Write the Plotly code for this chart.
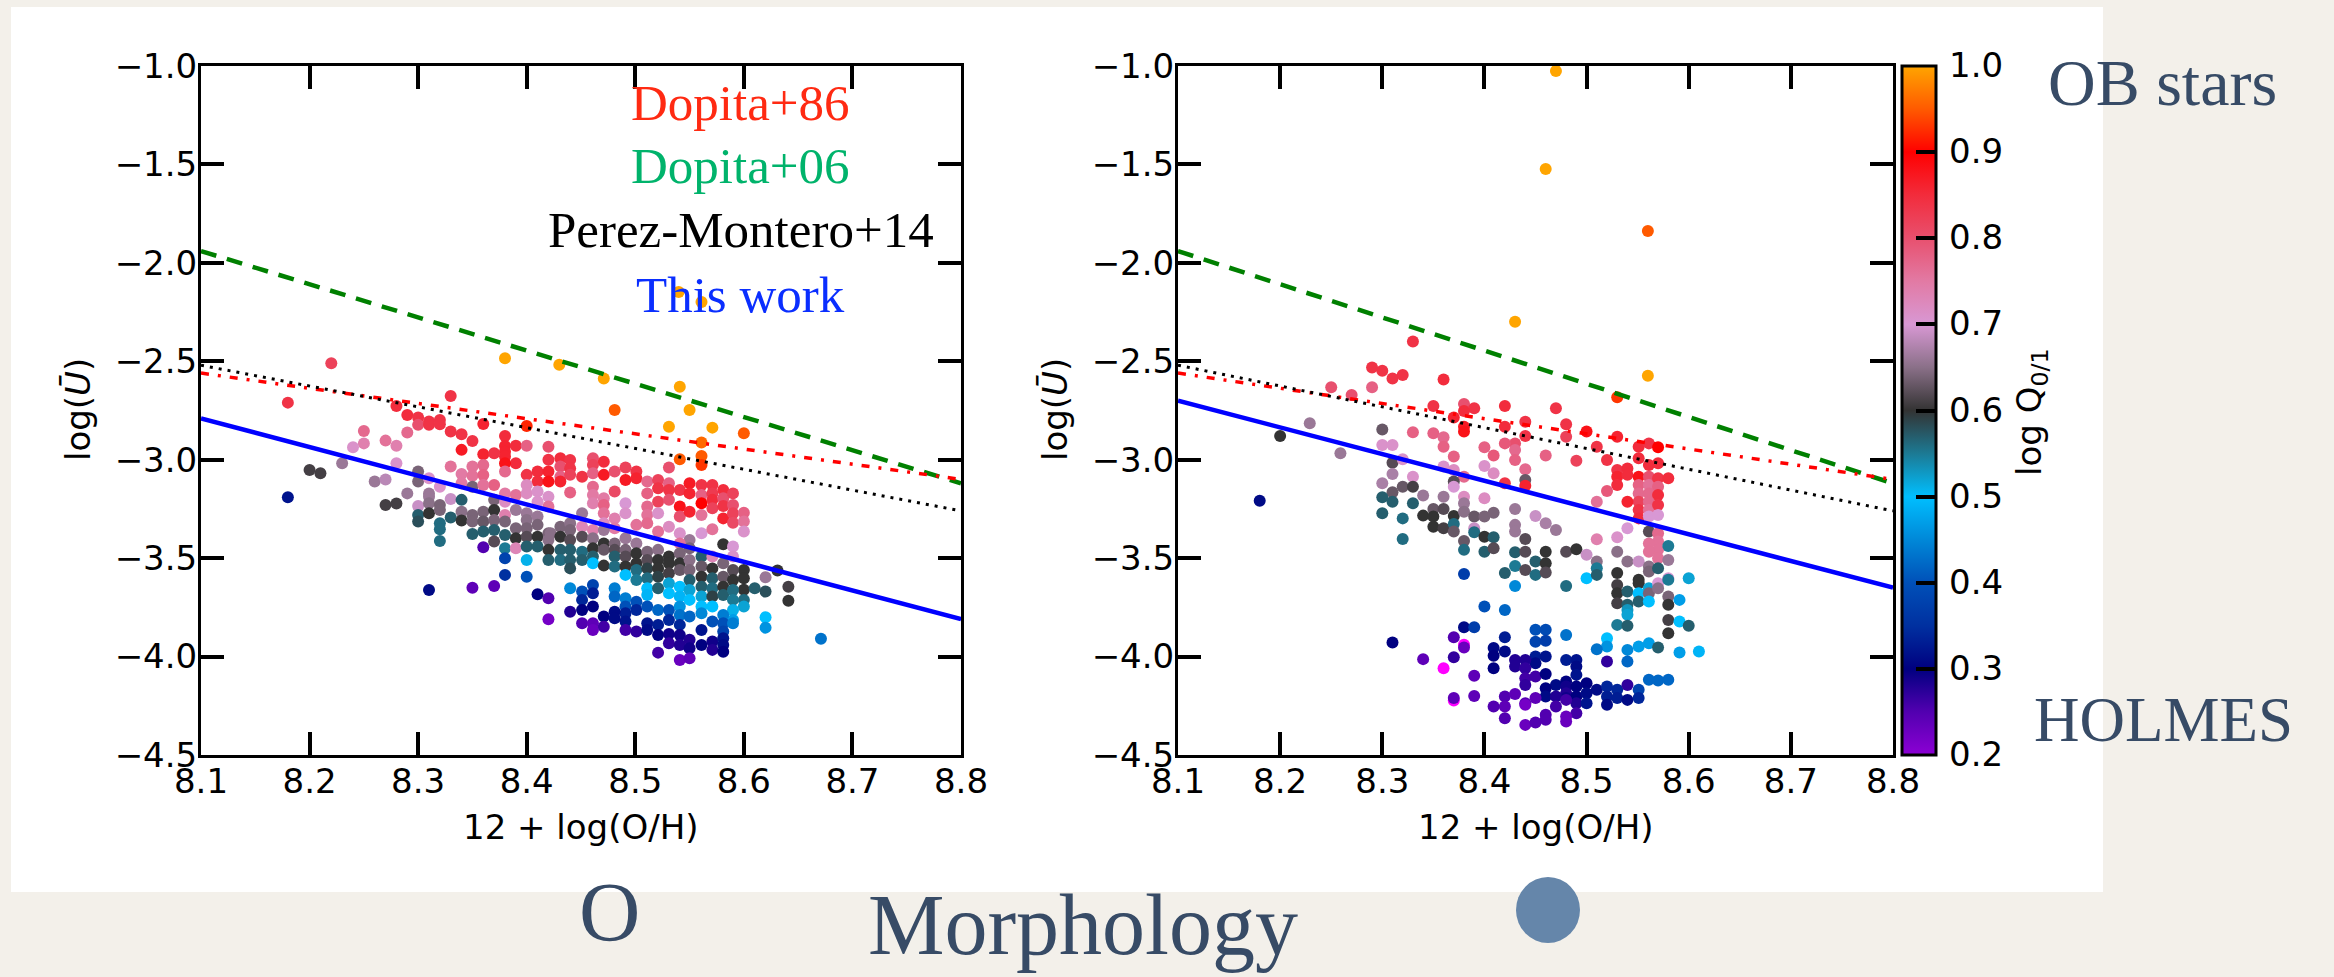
import plotly.graph_objects as go

# ---------------------------------------------------------------- data
# Left panel: 12+log(O/H), log(U), log Q(0/1)
left_oh = [
    8.220, 8.380, 8.430, 8.180, 8.330, 8.280, 8.290, 8.300, 8.300, 8.310,
    8.310, 8.320, 8.320, 8.360, 8.400, 8.330, 8.340, 8.290, 8.250, 8.250,
    8.240, 8.270, 8.280, 8.350, 8.340, 8.380, 8.380, 8.380, 8.380, 8.390,
    8.400, 8.360, 8.370, 8.420, 8.420, 8.390, 8.380, 8.280, 8.230, 8.200,
    8.210, 8.180, 8.260, 8.270, 8.290, 8.270, 8.280, 8.330, 8.340, 8.340,
    8.350, 8.350, 8.360, 8.360, 8.370, 8.380, 8.400, 8.410, 8.410, 8.420,
    8.420, 8.300, 8.300, 8.310, 8.320, 8.310, 8.310, 8.330, 8.340, 8.350,
    8.360, 8.370, 8.380, 8.380, 8.390, 8.400, 8.400, 8.410, 8.410, 8.420,
    8.420, 8.300, 8.300, 8.300, 8.310, 8.310, 8.320, 8.320, 8.320, 8.320,
    8.320, 8.330, 8.340, 8.340, 8.350, 8.350, 8.350, 8.360, 8.360, 8.360,
    8.370, 8.370, 8.370, 8.370, 8.380, 8.380, 8.380, 8.380, 8.380, 8.380,
    8.390, 8.390, 8.390, 8.390, 8.400, 8.400, 8.400, 8.400, 8.400, 8.400,
    8.400, 8.410, 8.410, 8.410, 8.410, 8.410, 8.420, 8.420, 8.420, 8.420,
    8.420, 8.420, 8.360, 8.350, 8.370, 8.310, 8.471, 8.541, 8.481, 8.550,
    8.531, 8.571, 8.600, 8.561, 8.561, 8.541, 8.561, 8.540, 8.561, 8.431,
    8.431, 8.431, 8.431, 8.440, 8.440, 8.440, 8.440, 8.451, 8.461, 8.461,
    8.461, 8.461, 8.461, 8.461, 8.471, 8.471, 8.471, 8.471, 8.471, 8.481,
    8.481, 8.481, 8.481, 8.491, 8.491, 8.491, 8.491, 8.501, 8.501, 8.501,
    8.511, 8.511, 8.511, 8.511, 8.511, 8.521, 8.521, 8.521, 8.521, 8.521,
    8.531, 8.531, 8.531, 8.531, 8.531, 8.541, 8.541, 8.541, 8.541, 8.550,
    8.550, 8.550, 8.550, 8.561, 8.561, 8.561, 8.561, 8.561, 8.571, 8.571,
    8.571, 8.571, 8.571, 8.581, 8.581, 8.581, 8.581, 8.590, 8.590, 8.590,
    8.590, 8.600, 8.600, 8.600, 8.581, 8.590, 8.590, 8.600, 8.600, 8.600,
    8.600, 8.600, 8.610, 8.620, 8.620, 8.631, 8.641, 8.641, 8.620, 8.620,
    8.671, 8.422, 8.431, 8.431, 8.431, 8.431, 8.440, 8.440, 8.440, 8.440,
    8.440, 8.440, 8.451, 8.451, 8.451, 8.451, 8.451, 8.461, 8.461, 8.461,
    8.461, 8.461, 8.471, 8.471, 8.471, 8.471, 8.471, 8.481, 8.481, 8.481,
    8.481, 8.491, 8.491, 8.491, 8.491, 8.491, 8.501, 8.501, 8.501, 8.501,
    8.501, 8.511, 8.511, 8.511, 8.511, 8.511, 8.511, 8.521, 8.521, 8.521,
    8.521, 8.521, 8.531, 8.531, 8.531, 8.531, 8.531, 8.541, 8.541, 8.541,
    8.541, 8.541, 8.541, 8.550, 8.550, 8.550, 8.550, 8.550, 8.550,
    8.561, 8.561, 8.561, 8.561, 8.561, 8.561, 8.571, 8.571, 8.571, 8.571,
    8.571, 8.571, 8.581, 8.581, 8.581, 8.581, 8.590, 8.590, 8.590, 8.590,
    8.590, 8.590, 8.440, 8.451, 8.451, 8.461, 8.461, 8.461, 8.481, 8.481,
    8.491, 8.491, 8.491, 8.491, 8.491, 8.501, 8.501, 8.501, 8.511, 8.511,
    8.511, 8.521, 8.521, 8.521, 8.521, 8.531, 8.531, 8.531, 8.531, 8.541,
    8.541, 8.541, 8.541, 8.541, 8.541, 8.550, 8.550, 8.550, 8.550, 8.561,
    8.561, 8.561, 8.571, 8.571, 8.571, 8.581, 8.581, 8.581, 8.581, 8.581,
    8.581, 8.590, 8.440, 8.451, 8.451, 8.461, 8.461, 8.471, 8.471, 8.481,
    8.481,
]
left_logu = [
    -2.510, -2.485, -2.518, -2.710, -2.676, -2.727, -2.773, -2.785, -2.823, -2.806,
    -2.823, -2.798, -2.820, -2.818, -2.829, -2.857, -2.871, -2.862, -2.854, -2.917,
    -2.937, -2.903, -2.929, -2.905, -2.950, -2.879, -2.930, -2.959, -2.984, -2.929,
    -2.929, -2.972, -2.967, -2.934, -3.000, -3.018, -3.018, -3.018, -3.018, -3.052,
    -3.069, -3.191, -3.111, -3.100, -3.171, -3.230, -3.222, -3.035, -3.072, -3.120,
    -3.035, -3.081, -3.027, -3.078, -3.128, -3.060, -3.077, -3.060, -3.111, -3.060,
    -3.111, -3.060, -3.111, -3.094, -3.137, -3.171, -3.188, -3.199, -3.204, -3.137,
    -3.128, -3.204, -3.171, -3.213, -3.179, -3.128, -3.171, -3.162, -3.213, -3.188,
    -3.238, -3.235, -3.281, -3.314, -3.221, -3.272, -3.230, -3.255, -3.323, -3.353,
    -3.413, -3.294, -3.264, -3.309, -3.281, -3.314, -3.377, -3.264, -3.314, -3.365,
    -3.255, -3.306, -3.357, -3.416, -3.281, -3.314, -3.382, -3.450, -3.501, -3.585,
    -3.255, -3.348, -3.399, -3.450, -3.272, -3.306, -3.348, -3.391, -3.441, -3.509,
    -3.594, -3.289, -3.331, -3.391, -3.441, -3.684, -3.374, -3.408, -3.458, -3.509,
    -3.704, -3.810, -3.445, -3.650, -3.641, -3.662, -2.587, -2.629, -2.747, -2.747,
    -2.832, -2.837, -2.866, -2.913, -2.981, -2.998, -3.027, -2.148, -2.199, -2.993,
    -3.035, -3.086, -3.111, -3.001, -3.044, -3.077, -3.167, -3.086, -2.993, -3.027,
    -3.069, -3.137, -3.179, -3.221, -3.010, -3.077, -3.196, -3.230, -3.272, -3.060,
    -3.162, -3.298, -3.348, -3.039, -3.103, -3.221, -3.272, -3.060, -3.094, -3.331,
    -3.111, -3.171, -3.238, -3.281, -3.323, -3.103, -3.145, -3.213, -3.272, -3.365,
    -3.039, -3.120, -3.154, -3.204, -3.340, -3.154, -3.238, -3.289, -3.374, -3.120,
    -3.171, -3.264, -3.408, -3.128, -3.179, -3.221, -3.281, -3.374, -3.128, -3.171,
    -3.204, -3.247, -3.353, -3.154, -3.196, -3.235, -3.298, -3.171, -3.230, -3.272,
    -3.320, -3.269, -3.314, -3.365, -3.430, -3.441, -3.492, -3.560, -3.602, -3.661,
    -3.712, -3.746, -3.653, -3.597, -3.670, -3.563, -3.645, -3.717, -3.800, -3.853,
    -3.910, -3.374, -3.340, -3.391, -3.458, -3.509, -3.323, -3.357, -3.408, -3.458,
    -3.509, -3.552, -3.272, -3.340, -3.391, -3.467, -3.509, -3.357, -3.399, -3.450,
    -3.492, -3.526, -3.323, -3.357, -3.425, -3.458, -3.538, -3.425, -3.458, -3.492,
    -3.543, -3.399, -3.458, -3.492, -3.543, -3.585, -3.425, -3.475, -3.526, -3.560,
    -3.611, -3.467, -3.509, -3.552, -3.602, -3.653, -3.687, -3.458, -3.509, -3.552,
    -3.594, -3.653, -3.492, -3.526, -3.577, -3.628, -3.678, -3.425, -3.475, -3.526,
    -3.560, -3.645, -3.695, -3.450, -3.509, -3.560, -3.611, -3.662, -3.712,
    -3.492, -3.543, -3.594, -3.645, -3.695, -3.746, -3.492, -3.552, -3.602, -3.653,
    -3.695, -3.746, -3.526, -3.594, -3.645, -3.687, -3.560, -3.611, -3.662, -3.712,
    -3.763, -3.814, -3.653, -3.670, -3.712, -3.636, -3.678, -3.746, -3.653, -3.695,
    -3.704, -3.746, -3.780, -3.822, -3.865, -3.721, -3.763, -3.873, -3.746, -3.831,
    -3.865, -3.763, -3.839, -3.890, -3.980, -3.763, -3.814, -3.885, -3.932, -3.746,
    -3.789, -3.839, -3.890, -3.941, -4.017, -3.797, -3.915, -3.958, -4.009, -3.780,
    -3.865, -3.941, -3.822, -3.924, -3.966, -3.789, -3.831, -3.873, -3.907, -3.941,
    -3.975, -3.831, -3.772, -3.763, -3.831, -3.831, -3.865, -3.797, -3.848, -3.772,
    -3.805,
]
left_logq = [
    0.82, 1.00, 1.00, 0.84, 0.84, 0.85, 0.85, 0.84, 0.80, 0.84,
    0.84, 0.84, 0.84, 0.86, 0.92, 0.84, 0.84, 0.77, 0.77, 0.74,
    0.71, 0.76, 0.74, 0.84, 0.87, 0.85, 0.86, 0.86, 0.86, 0.85,
    0.78, 0.86, 0.84, 0.80, 0.84, 0.85, 0.88, 0.71, 0.66, 0.61,
    0.61, 0.32, 0.66, 0.68, 0.66, 0.61, 0.61, 0.76, 0.75, 0.75,
    0.76, 0.76, 0.77, 0.78, 0.78, 0.77, 0.84, 0.85, 0.85, 0.86,
    0.88, 0.64, 0.64, 0.71, 0.71, 0.66, 0.66, 0.69, 0.57, 0.64,
    0.76, 0.64, 0.75, 0.72, 0.76, 0.72, 0.72, 0.71, 0.71, 0.71,
    0.76, 0.69, 0.57, 0.58, 0.65, 0.60, 0.64, 0.64, 0.56, 0.56,
    0.56, 0.57, 0.65, 0.60, 0.64, 0.64, 0.57, 0.64, 0.63, 0.57,
    0.60, 0.64, 0.57, 0.62, 0.74, 0.64, 0.57, 0.55, 0.38, 0.35,
    0.66, 0.64, 0.60, 0.73, 0.66, 0.65, 0.64, 0.62, 0.57, 0.51,
    0.40, 0.66, 0.64, 0.60, 0.57, 0.30, 0.64, 0.65, 0.60, 0.57,
    0.25, 0.22, 0.25, 0.24, 0.24, 0.31, 1.00, 1.00, 0.95, 1.00,
    1.00, 1.00, 0.95, 0.96, 0.95, 0.95, 0.93, 1.00, 1.00, 0.85,
    0.80, 0.78, 0.86, 0.84, 0.84, 0.82, 0.78, 0.84, 0.80, 0.82,
    0.78, 0.77, 0.75, 0.74, 0.85, 0.87, 0.75, 0.78, 0.76, 0.80,
    0.81, 0.74, 0.75, 0.82, 0.87, 0.70, 0.71, 0.84, 0.86, 0.76,
    0.77, 0.78, 0.77, 0.76, 0.77, 0.82, 0.84, 0.82, 0.71, 0.76,
    0.80, 0.78, 0.84, 0.80, 0.72, 0.84, 0.88, 0.80, 0.71, 0.87,
    0.86, 0.86, 0.66, 0.84, 0.78, 0.90, 0.76, 0.70, 0.84, 0.83,
    0.85, 0.82, 0.76, 0.85, 0.80, 0.84, 0.86, 0.82, 0.80, 0.82,
    0.81, 0.78, 0.76, 0.71, 0.60, 0.70, 0.71, 0.60, 0.60, 0.60,
    0.56, 0.52, 0.57, 0.66, 0.58, 0.60, 0.61, 0.60, 0.50, 0.46,
    0.43, 0.65, 0.64, 0.60, 0.57, 0.56, 0.65, 0.64, 0.62, 0.57,
    0.57, 0.58, 0.66, 0.73, 0.62, 0.56, 0.57, 0.74, 0.65, 0.60,
    0.57, 0.50, 0.72, 0.66, 0.60, 0.63, 0.60, 0.64, 0.62, 0.57,
    0.56, 0.66, 0.64, 0.62, 0.60, 0.50, 0.66, 0.60, 0.60, 0.56,
    0.55, 0.64, 0.62, 0.59, 0.56, 0.50, 0.49, 0.65, 0.60, 0.60,
    0.59, 0.57, 0.60, 0.60, 0.61, 0.52, 0.50, 0.76, 0.64, 0.60,
    0.63, 0.50, 0.49, 0.64, 0.65, 0.64, 0.57, 0.52, 0.50,
    0.57, 0.63, 0.60, 0.57, 0.52, 0.50, 0.73, 0.60, 0.57, 0.56,
    0.59, 0.50, 0.64, 0.63, 0.60, 0.57, 0.62, 0.60, 0.56, 0.55,
    0.51, 0.47, 0.45, 0.40, 0.34, 0.38, 0.33, 0.30, 0.44, 0.42,
    0.44, 0.40, 0.33, 0.32, 0.26, 0.40, 0.34, 0.27, 0.40, 0.32,
    0.31, 0.42, 0.33, 0.30, 0.26, 0.40, 0.34, 0.29, 0.27, 0.46,
    0.43, 0.34, 0.29, 0.28, 0.23, 0.42, 0.28, 0.29, 0.24, 0.45,
    0.32, 0.30, 0.40, 0.29, 0.28, 0.44, 0.40, 0.38, 0.32, 0.31,
    0.30, 0.44, 0.28, 0.30, 0.25, 0.24, 0.23, 0.30, 0.26, 0.31,
    0.31,
]

# Right panel: 12+log(O/H), log(U), log Q(0/1)
right_oh = [
    8.470, 8.460, 8.560, 8.430, 8.560, 8.330, 8.290, 8.300, 8.310, 8.320,
    8.360, 8.250, 8.290, 8.270, 8.350, 8.380, 8.390, 8.380, 8.370, 8.380,
    8.380, 8.330, 8.350, 8.360, 8.360, 8.370, 8.400, 8.300, 8.300, 8.310,
    8.229, 8.200, 8.259, 8.180, 8.310, 8.320, 8.310, 8.300, 8.330, 8.360,
    8.370, 8.380, 8.400, 8.320, 8.330, 8.310, 8.340, 8.360, 8.370, 8.370,
    8.380, 8.400, 8.300, 8.310, 8.330, 8.300, 8.320, 8.320, 8.340, 8.350,
    8.350, 8.350, 8.360, 8.360, 8.370, 8.370, 8.370, 8.380, 8.380, 8.380,
    8.380, 8.390, 8.390, 8.390, 8.400, 8.400, 8.400, 8.530, 8.420, 8.470,
    8.440, 8.420, 8.480, 8.480, 8.500, 8.440, 8.430, 8.420, 8.530, 8.510,
    8.551, 8.561, 8.570, 8.409, 8.430, 8.430, 8.460, 8.490, 8.520, 8.551,
    8.561, 8.570, 8.530, 8.530, 8.530, 8.540, 8.540, 8.551, 8.551, 8.551,
    8.551, 8.551, 8.551, 8.561, 8.561, 8.561, 8.561, 8.561, 8.561, 8.570,
    8.570, 8.570, 8.570, 8.570, 8.580, 8.520, 8.540, 8.510, 8.440, 8.440,
    8.440, 8.409, 8.420, 8.409, 8.430, 8.430, 8.430, 8.450, 8.460, 8.470,
    8.510, 8.530, 8.540, 8.561, 8.570, 8.570, 8.570, 8.561, 8.561, 8.580,
    8.440, 8.409, 8.409, 8.430, 8.440, 8.460, 8.480, 8.490, 8.500, 8.530,
    8.380, 8.400, 8.380, 8.390, 8.310, 8.370, 8.380, 8.340, 8.370, 8.390,
    8.370, 8.390, 8.420, 8.430, 8.440, 8.450, 8.450, 8.460, 8.460, 8.480,
    8.500, 8.510, 8.510, 8.510, 8.530, 8.530, 8.530, 8.530, 8.530, 8.540,
    8.540, 8.540, 8.540, 8.540, 8.540, 8.551, 8.551, 8.551, 8.551, 8.551,
    8.561, 8.561, 8.561, 8.561, 8.561, 8.570, 8.570, 8.570, 8.570, 8.580,
    8.580, 8.580, 8.580, 8.580, 8.580, 8.580, 8.591, 8.591, 8.600, 8.600,
    8.430, 8.420, 8.450, 8.460, 8.480, 8.420, 8.450, 8.460, 8.409, 8.409,
    8.420, 8.520, 8.520, 8.510, 8.540, 8.551, 8.561, 8.570, 8.591, 8.610,
    8.540, 8.520, 8.480, 8.490, 8.490, 8.490, 8.450, 8.460, 8.450, 8.430,
    8.430, 8.440, 8.440, 8.440, 8.440, 8.409, 8.450, 8.460, 8.470, 8.480,
    8.480, 8.480, 8.480, 8.460, 8.460, 8.490, 8.490, 8.490, 8.490, 8.500,
    8.500, 8.500, 8.510, 8.520, 8.520, 8.520, 8.530, 8.530, 8.540, 8.540,
    8.551, 8.551, 8.561, 8.570, 8.580, 8.420, 8.420, 8.420, 8.409, 8.430,
    8.440, 8.440, 8.450, 8.460, 8.460, 8.470, 8.470, 8.480, 8.480, 8.480,
    8.440, 8.450,
]
right_logu = [
    -1.025, -1.523, -1.838, -2.299, -2.574, -2.400, -2.531, -2.548, -2.587, -2.570,
    -2.592, -2.632, -2.632, -2.671, -2.727, -2.717, -2.739, -2.752, -2.785, -2.832,
    -2.857, -2.861, -2.866, -2.886, -2.934, -2.984, -2.937, -2.846, -2.925, -2.925,
    -2.815, -2.879, -2.967, -3.209, -3.015, -2.998, -3.072, -3.120, -3.086, -3.035,
    -3.052, -3.086, -3.032, -3.137, -3.137, -3.165, -3.182, -3.188, -3.111, -3.137,
    -3.188, -3.196, -3.191, -3.213, -3.221, -3.272, -3.298, -3.403, -3.284, -3.250,
    -3.289, -3.340, -3.250, -3.348, -3.286, -3.326, -3.365, -3.221, -3.264, -3.413,
    -3.458, -3.289, -3.348, -3.369, -3.289, -3.391, -3.467, -2.683, -2.727, -2.739,
    -2.807, -2.832, -2.820, -2.883, -2.857, -2.879, -2.917, -2.917, -2.883, -2.934,
    -2.934, -2.917, -2.937, -2.979, -2.951, -3.001, -2.979, -3.005, -3.001, -2.993,
    -3.027, -3.018, -3.052, -3.086, -3.128, -3.044, -3.077, -3.086, -3.128, -3.171,
    -3.213, -3.255, -3.298, -3.086, -3.128, -3.171, -3.213, -3.255, -3.289, -3.094,
    -3.137, -3.179, -3.230, -3.281, -3.094, -3.159, -3.213, -3.213, -3.049, -3.103,
    -3.132, -3.069, -3.120, -3.269, -3.250, -3.331, -3.365, -3.286, -3.323, -3.357,
    -3.404, -3.394, -3.348, -3.365, -3.374, -3.416, -3.458, -3.425, -3.467, -3.438,
    -3.403, -3.394, -3.450, -3.470, -3.467, -3.467, -3.467, -3.455, -3.483, -3.467,
    -3.580, -3.746, -3.851, -3.851, -3.929, -3.902, -3.954, -4.013, -4.003, -4.098,
    -4.211, -4.200, -3.576, -3.540, -3.560, -3.517, -3.585, -3.526, -3.573, -3.641,
    -3.602, -3.517, -3.551, -3.585, -3.576, -3.636, -3.678, -3.729, -3.839, -3.517,
    -3.670, -3.737, -3.763, -3.788, -3.844, -3.517, -3.610, -3.627, -3.678, -3.720,
    -3.543, -3.568, -3.653, -3.678, -3.720, -3.500, -3.551, -3.627, -3.653, -3.509,
    -3.602, -3.610, -3.695, -3.737, -3.814, -3.881, -3.712, -3.822, -3.602, -3.844,
    -3.641, -3.763, -3.864, -3.864, -3.890, -3.902, -3.925, -3.920, -3.957, -3.996,
    -3.974, -3.907, -3.949, -3.963, -3.966, -3.949, -3.932, -3.954, -3.979, -3.974,
    -4.025, -4.025, -4.017, -4.017, -4.051, -4.093, -4.000, -4.000, -4.034, -4.017,
    -4.051, -4.017, -4.059, -4.110, -4.144, -4.059, -4.101, -4.088, -4.144, -4.127,
    -4.152, -4.186, -4.211, -4.161, -4.203, -4.152, -4.203, -4.237, -4.288, -4.135,
    -4.186, -4.237, -4.169, -4.152, -4.203, -4.245, -4.169, -4.211, -4.144, -4.220,
    -4.169, -4.211, -4.118, -4.122, -4.118, -4.203, -4.254, -4.313, -4.254, -4.190,
    -4.237, -4.245, -4.211, -4.296, -4.321, -4.203, -4.254, -4.220, -4.305, -4.330,
    -4.347, -4.335,
]
right_logq = [
    1.00, 1.00, 0.95, 1.00, 1.00, 0.84, 0.84, 0.84, 0.84, 0.84,
    0.85, 0.80, 0.78, 0.80, 0.84, 0.80, 0.84, 0.85, 0.86, 0.87,
    0.88, 0.78, 0.78, 0.77, 0.78, 0.78, 0.78, 0.63, 0.71, 0.71,
    0.66, 0.60, 0.66, 0.31, 0.62, 0.71, 0.67, 0.67, 0.71, 0.71,
    0.72, 0.77, 0.71, 0.63, 0.61, 0.63, 0.66, 0.66, 0.62, 0.70,
    0.72, 0.72, 0.57, 0.57, 0.57, 0.57, 0.56, 0.56, 0.60, 0.63,
    0.60, 0.60, 0.62, 0.61, 0.60, 0.56, 0.63, 0.66, 0.65, 0.63,
    0.56, 0.63, 0.69, 0.56, 0.64, 0.60, 0.57, 0.93, 0.85, 0.84,
    0.84, 0.85, 0.84, 0.82, 0.88, 0.84, 0.80, 0.79, 0.86, 0.84,
    0.85, 0.84, 0.90, 0.79, 0.77, 0.78, 0.78, 0.82, 0.84, 0.85,
    0.85, 0.85, 0.84, 0.86, 0.85, 0.85, 0.85, 0.88, 0.78, 0.77,
    0.82, 0.84, 0.85, 0.80, 0.76, 0.77, 0.77, 0.76, 0.70, 0.84,
    0.78, 0.85, 0.84, 0.70, 0.85, 0.79, 0.86, 0.76, 0.77, 0.63,
    0.86, 0.72, 0.84, 0.64, 0.66, 0.66, 0.66, 0.69, 0.67, 0.66,
    0.74, 0.71, 0.70, 0.62, 0.77, 0.76, 0.76, 0.76, 0.76, 0.55,
    0.62, 0.57, 0.62, 0.57, 0.62, 0.60, 0.62, 0.60, 0.69, 0.65,
    0.37, 0.40, 0.31, 0.37, 0.30, 0.25, 0.23, 0.24, 0.27, 0.24,
    0.24, 0.24, 0.57, 0.55, 0.62, 0.57, 0.56, 0.60, 0.62, 0.56,
    0.50, 0.65, 0.55, 0.57, 0.60, 0.61, 0.60, 0.61, 0.55, 0.65,
    0.57, 0.57, 0.53, 0.52, 0.57, 0.69, 0.60, 0.60, 0.50, 0.57,
    0.65, 0.64, 0.52, 0.64, 0.50, 0.76, 0.57, 0.70, 0.65, 0.66,
    0.70, 0.55, 0.64, 0.60, 0.61, 0.60, 0.47, 0.50, 0.52, 0.57,
    0.45, 0.42, 0.40, 0.39, 0.43, 0.33, 0.38, 0.37, 0.31, 0.30,
    0.31, 0.50, 0.46, 0.43, 0.45, 0.47, 0.47, 0.57, 0.47, 0.49,
    0.42, 0.27, 0.33, 0.32, 0.31, 0.32, 0.33, 0.32, 0.31, 0.28,
    0.28, 0.28, 0.27, 0.26, 0.27, 0.30, 0.26, 0.30, 0.31, 0.30,
    0.29, 0.28, 0.29, 0.30, 0.31, 0.30, 0.30, 0.28, 0.26, 0.30,
    0.31, 0.32, 0.31, 0.34, 0.33, 0.31, 0.34, 0.33, 0.27, 0.31,
    0.38, 0.34, 0.42, 0.42, 0.42, 0.25, 0.24, 0.25, 0.25, 0.24,
    0.25, 0.22, 0.24, 0.25, 0.25, 0.28, 0.26, 0.26, 0.23, 0.23,
    0.23, 0.25,
]

# Right panel regions below the colour range (drawn in magenta)
right_low_oh = [8.380, 8.360, 8.370]
right_low_logu = [-3.940, -4.059, -4.223]

# Calibration lines, evaluated at the two ends of the metallicity axis
line_oh = [8.1, 8.8]
dopita86_logu = [-2.56, -3.10]
dopita06_logu = [-1.94, -3.12]
perez_montero14_logu = [-2.52, -3.26]
this_work_left_logu = [-2.79, -3.81]
this_work_right_logu = [-2.70, -3.65]

oh_ticks = [8.1, 8.2, 8.3, 8.4, 8.5, 8.6, 8.7, 8.8]
logu_ticks = [-4.5, -4.0, -3.5, -3.0, -2.5, -2.0, -1.5, -1.0]
logq_ticks = [0.2, 0.3, 0.4, 0.5, 0.6, 0.7, 0.8, 0.9, 1.0]

legend_labels = ["Dopita+86", "Dopita+06", "Perez-Montero+14", "This work"]
legend_colors = ["#ff2a12", "#00b36b", "#000000", "#0a2eff"]
legend_logu = [-1.19, -1.51, -1.835, -2.165]

# log Q(0/1) colour map, 0.2 -> 1.0
q_stops = [0.2, 0.25, 0.3, 0.35, 0.4, 0.45, 0.5, 0.55, 0.6,
           0.65, 0.7, 0.75, 0.8, 0.85, 0.9, 0.95, 1.0]
q_colors = ["#8c00d4", "#5200b0", "#000080", "#0030a0", "#0050b8", "#0088d8",
            "#00bfff", "#1c7a94", "#333333", "#8a7088", "#d898d4", "#e27aa4",
            "#e8506e", "#f22c3c", "#ff0000", "#ff5a00", "#ffa500"]

# ---------------------------------------------------------------- layout helpers
W, H = 2334, 977
PLOT_TOP, PLOT_BOTTOM = 66, 755          # pixel rows of the axes frame
CB_LEFT = 1902                           # colour bar left edge (px)


def fx(p):
    return p / W


def fy(p):
    return 1 - p / H


colorscale = [[(v - 0.2) / 0.8, c] for v, c in zip(q_stops, q_colors)]

SANS = "DejaVu Sans"
SERIF = "Liberation Serif"
SLIDE = "#374b66"

fig = go.Figure()

# scatter points
fig.add_trace(go.Scatter(
    x=left_oh, y=left_logu, mode="markers", xaxis="x", yaxis="y",
    marker=dict(color=left_logq, coloraxis="coloraxis", size=12, line=dict(width=0)),
    showlegend=False, hoverinfo="skip"))
fig.add_trace(go.Scatter(
    x=right_low_oh, y=right_low_logu, mode="markers", xaxis="x2", yaxis="y2",
    marker=dict(color="#ff00ff", size=12, line=dict(width=0)),
    showlegend=False, hoverinfo="skip"))
fig.add_trace(go.Scatter(
    x=right_oh, y=right_logu, mode="markers", xaxis="x2", yaxis="y2",
    marker=dict(color=right_logq, coloraxis="coloraxis", size=12, line=dict(width=0)),
    showlegend=False, hoverinfo="skip"))

# calibration lines in both panels
for xa, ya, blue in (("x", "y", this_work_left_logu), ("x2", "y2", this_work_right_logu)):
    fig.add_trace(go.Scatter(x=line_oh, y=dopita06_logu, mode="lines", xaxis=xa, yaxis=ya,
                             line=dict(color="#008000", width=4.5, dash="16px,11px"),
                             showlegend=False, hoverinfo="skip"))
    fig.add_trace(go.Scatter(x=line_oh, y=dopita86_logu, mode="lines", xaxis=xa, yaxis=ya,
                             line=dict(color="#ff0000", width=3.5, dash="8px,9px,3px,9px"),
                             showlegend=False, hoverinfo="skip"))
    fig.add_trace(go.Scatter(x=line_oh, y=perez_montero14_logu, mode="lines", xaxis=xa, yaxis=ya,
                             line=dict(color="#000000", width=3, dash="3px,6px"),
                             showlegend=False, hoverinfo="skip"))
    fig.add_trace(go.Scatter(x=line_oh, y=blue, mode="lines", xaxis=xa, yaxis=ya,
                             line=dict(color="#0000ff", width=4.5),
                             showlegend=False, hoverinfo="skip"))

axis_common = dict(
    showline=True, linewidth=3, linecolor="black", mirror="allticks",
    ticks="inside", ticklen=23, tickwidth=4, tickcolor="black", automargin=False,
    showgrid=False, zeroline=False, tickfont=dict(family=SANS, size=34, color="black"),
)
xaxis_common = dict(axis_common, range=[8.1, 8.8], tickvals=oh_ticks, tickformat=".1f",
                    ticklabelstandoff=-6)
yaxis_common = dict(axis_common, range=[-4.5, -1.0], tickvals=logu_ticks, tickformat=".1f",
                    ticklabelstandoff=-6)

annotations = []
# in-panel legend text (left panel)
for label, color, yv in zip(legend_labels, legend_colors, legend_logu):
    annotations.append(dict(x=8.597, y=yv, xref="x", yref="y", text=label, showarrow=False,
                            xanchor="center", yanchor="middle",
                            font=dict(family=SERIF, size=51, color=color)))
# axis titles
for cx in (581, 1536):
    annotations.append(dict(x=fx(cx), y=fy(827), xref="paper", yref="paper",
                            text="12 + log(O/H)", showarrow=False,
                            xanchor="center", yanchor="middle",
                            font=dict(family=SANS, size=34, color="black")))
for cx in (78, 1055):
    annotations.append(dict(x=fx(cx), y=fy(410), xref="paper", yref="paper",
                            text="log(<i>Ū</i>)", showarrow=False, textangle=-90,
                            xanchor="center", yanchor="middle",
                            font=dict(family=SANS, size=34, color="black")))
# colour bar tick labels and title
for v in logq_ticks:
    row = PLOT_BOTTOM - (v - 0.2) / 0.8 * (PLOT_BOTTOM - PLOT_TOP)
    annotations.append(dict(x=fx(1947), y=fy(row - 1), xref="paper", yref="paper",
                            text=f"{v:.1f}", showarrow=False,
                            xanchor="left", yanchor="middle",
                            font=dict(family=SANS, size=34, color="black")))
annotations.append(dict(x=fx(2031), y=fy(412), xref="paper", yref="paper",
                        text="log Q<sub>0/1</sub>", showarrow=False, textangle=-90,
                        xanchor="center", yanchor="middle",
                        font=dict(family=SANS, size=34, color="black")))
# slide text
slide_text = [("OB stars", 2162, 82, 66), ("HOLMES", 2163, 720, 63),
              ("O", 609, 912, 85), ("Morphology", 1083, 925, 86)]
for txt, cx, cy, size in slide_text:
    annotations.append(dict(x=fx(cx), y=fy(cy), xref="paper", yref="paper", text=txt,
                            showarrow=False, xanchor="center", yanchor="middle",
                            font=dict(family=SERIF, size=size, color=SLIDE)))

shapes = [
    dict(type="rect", xref="paper", yref="paper", x0=fx(11), x1=fx(2103), y0=fy(892), y1=fy(7),
         fillcolor="white", line=dict(width=0), layer="below"),
    dict(type="circle", xref="paper", yref="paper", x0=fx(1516), x1=fx(1580), y0=fy(943), y1=fy(877),
         fillcolor="#6586aa", line=dict(width=0), layer="above"),
]

fig.update_layout(
    template="none",
    width=W, height=H, margin=dict(l=0, r=0, t=0, b=0, pad=0, autoexpand=False),
    paper_bgcolor="#f3f0ea", plot_bgcolor="white",
    font=dict(family=SANS, size=34, color="black"),
    xaxis=dict(xaxis_common, domain=[fx(201), fx(961)], anchor="y"),
    yaxis=dict(yaxis_common, domain=[fy(PLOT_BOTTOM), fy(PLOT_TOP)], anchor="x"),
    xaxis2=dict(xaxis_common, domain=[fx(1178), fx(1893)], anchor="y2"),
    yaxis2=dict(yaxis_common, domain=[fy(PLOT_BOTTOM), fy(PLOT_TOP)], anchor="x2"),
    coloraxis=dict(
        colorscale=colorscale, cmin=0.2, cmax=1.0,
        colorbar=dict(
            x=fx(CB_LEFT), xanchor="left", xpad=0,
            y=fy((PLOT_TOP + PLOT_BOTTOM) / 2), yanchor="middle", ypad=0,
            len=(PLOT_BOTTOM - PLOT_TOP) / H, lenmode="fraction",
            thickness=34, thicknessmode="pixels",
            outlinewidth=3, outlinecolor="black",
            ticks="inside", ticklen=21, tickwidth=4, tickcolor="black",
            tickvals=logq_ticks, showticklabels=False,
        ),
    ),
    annotations=annotations, shapes=shapes, showlegend=False,
)

fig.write_html("out.html", config={"displayModeBar": False})
